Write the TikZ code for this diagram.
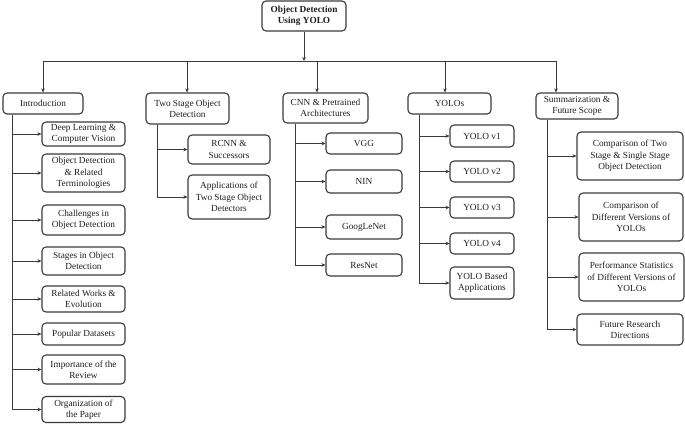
\documentclass[tikz,border=0pt]{standalone}
\usepackage{fontspec}
\setmainfont{Liberation Serif}
\usetikzlibrary{arrows.meta}
\definecolor{linec}{HTML}{3A3A3A}
\definecolor{textc}{HTML}{1E1E1E}
\begin{document}
\begin{tikzpicture}[x=1pt,y=-1pt,
 box/.style={draw=linec, line width=1.1pt, rounded corners=4pt, align=center, inner sep=0pt, font=\fontsize{9.3}{11.3}\selectfont, text=textc},
 arr/.style={draw=linec, line width=1pt, -{Stealth[length=4pt,width=3.6pt]}},
 ln/.style={draw=linec, line width=1pt}]
\useasboundingbox (0,0) rectangle (685,424);
% root
\node[box, minimum width=84pt, minimum height=30pt, font=\fontsize{9.3}{11.3}\selectfont\bfseries] (root) at (304,16) {Object Detection\\Using YOLO};
% level 1
\node[box, minimum width=80pt, minimum height=21pt] (intro) at (43,103.5) {Introduction};
\node[box, minimum width=83pt, minimum height=31pt] (two) at (187.5,108.5) {Two Stage Object\\Detection};
\node[box, minimum width=85pt, minimum height=30pt] (cnn) at (325.5,108) {CNN \& Pretrained\\Architectures};
\node[box, minimum width=83pt, minimum height=21pt] (yolos) at (449.5,103.5) {YOLOs};
\node[box, minimum width=82pt, minimum height=26pt] (summ) at (577,106) {Summarization \&\\Future Scope};
% bar coordinates
\coordinate (b1) at (43,61);
\coordinate (b2) at (187,61);
\coordinate (b3) at (317,61);
\coordinate (b4) at (445,61);
\coordinate (b5) at (556,61);
% trunk x coordinates
\coordinate (ti) at (12,0);
\coordinate (tt) at (157,0);
\coordinate (tc) at (295,0);
\coordinate (ty) at (419,0);
\coordinate (ts) at (547,0);
% introduction children
\node[box, minimum width=83pt, minimum height=24pt] (i1) at (83.5,134) {Deep Learning \&\\Computer Vision};
\node[box, minimum width=83pt, minimum height=38pt] (i2) at (83.5,173) {Object Detection\\\& Related\\Terminologies};
\node[box, minimum width=83pt, minimum height=30pt] (i3) at (83.5,220) {Challenges in\\Object Detection};
\node[box, minimum width=83pt, minimum height=28pt] (i4) at (83.5,261) {Stages in Object\\Detection};
\node[box, minimum width=83pt, minimum height=26pt] (i5) at (83.5,299) {Related Works \&\\Evolution};
\node[box, minimum width=83pt, minimum height=22pt] (i6) at (83.5,334) {Popular Datasets};
\node[box, minimum width=83pt, minimum height=29pt] (i7) at (83.5,369.5) {Importance of the\\Review};
\node[box, minimum width=83pt, minimum height=26pt] (i8) at (83.5,409.5) {Organization of\\the Paper};
% two stage children
\node[box, minimum width=82pt, minimum height=29pt] (t1) at (229,149.5) {RCNN \&\\Successors};
\node[box, minimum width=82pt, minimum height=44pt] (t2) at (229,197) {Applications of\\Two Stage Object\\Detectors};
% cnn children
\node[box, minimum width=76pt, minimum height=21pt] (c1) at (364,143.5) {VGG};
\node[box, minimum width=76pt, minimum height=23pt] (c2) at (364,181.5) {NIN};
\node[box, minimum width=76pt, minimum height=24pt] (c3) at (364,227) {GoogLeNet};
\node[box, minimum width=76pt, minimum height=22pt] (c4) at (364,265) {ResNet};
% yolo children
\node[box, minimum width=64pt, minimum height=22pt] (y1) at (482,136) {YOLO v1};
\node[box, minimum width=64pt, minimum height=21pt] (y2) at (482,171.5) {YOLO v2};
\node[box, minimum width=64pt, minimum height=21pt] (y3) at (482,207.5) {YOLO v3};
\node[box, minimum width=64pt, minimum height=21pt] (y4) at (482,243.5) {YOLO v4};
\node[box, minimum width=64pt, minimum height=32pt] (y5) at (482,283) {YOLO Based\\Applications};
% summarization children
\node[box, minimum width=106pt, minimum height=48pt] (s1) at (630,156) {Comparison of Two\\Stage \& Single Stage\\Object Detection};
\node[box, minimum width=104pt, minimum height=48pt] (s2) at (631,217) {Comparison of\\Different Versions of\\YOLOs};
\node[box, minimum width=105pt, minimum height=48pt] (s3) at (631.5,277) {Performance Statistics\\of Different Versions of\\YOLOs};
\node[box, minimum width=106pt, minimum height=31pt] (s4) at (630,329.5) {Future Research\\Directions};
% connectors: root to bar
\draw[arr] (root.south) -- (root.south |- b1);
\draw[ln] (b1) -- (b5);
\draw[arr] (b1) -- (b1 |- intro.north);
\draw[arr] (b2) -- (b2 |- two.north);
\draw[arr] (b3) -- (b3 |- cnn.north);
\draw[arr] (b4) -- (b4 |- yolos.north);
\draw[arr] (b5) -- (b5 |- summ.north);
% children connectors
\foreach \c in {i1,i2,i3,i4,i5,i6,i7,i8} \draw[arr] (intro.south -| ti) |- (\c.west);
\foreach \c in {t1,t2} \draw[arr] (two.south -| tt) |- (\c.west);
\foreach \c in {c1,c2,c3,c4} \draw[arr] (cnn.south -| tc) |- (\c.west);
\foreach \c in {y1,y2,y3,y4,y5} \draw[arr] (yolos.south -| ty) |- (\c.west);
\foreach \c in {s1,s2,s3,s4} \draw[arr] (summ.south -| ts) |- (\c.west);
\end{tikzpicture}
\end{document}
